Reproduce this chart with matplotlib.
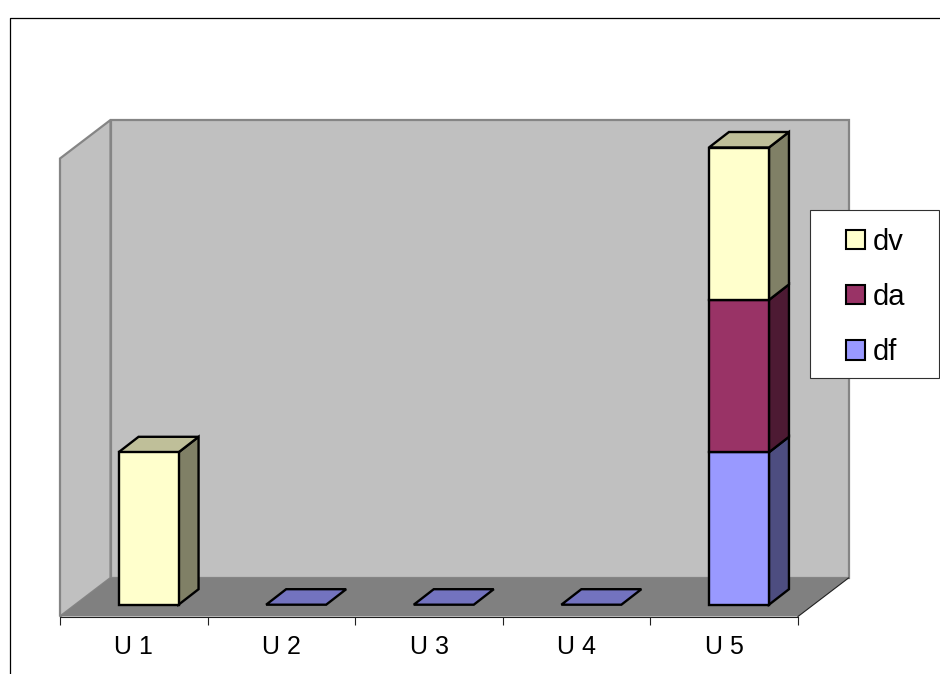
import matplotlib
matplotlib.use("Agg")
import matplotlib.pyplot as plt
from matplotlib.lines import Line2D
from matplotlib.patches import Patch, Polygon, Rectangle
from matplotlib.colors import to_rgb
from matplotlib.transforms import Affine2D

categories = ["U 1", "U 2", "U 3", "U 4", "U 5"]
df_values = [0, 0, 0, 0, 1]
da_values = [0, 0, 0, 0, 1]
dv_values = [1, 0, 0, 0, 1]
series_names = ["df", "da", "dv"]
series_colors = ["#9999FF", "#993366", "#FFFFCC"]

W, H = 940, 674
PX_X, PX_Y = 147.6, 152.4      # pixels per category / per value unit
X0, Y0 = 133.8, 604.7          # pixel of category 0 / value 0
plt.rcParams["font.family"] = ["Liberation Sans", "DejaVu Sans"]
FS = 18
LEG_FS = 21

fig = plt.figure(figsize=(W / 100, H / 100), dpi=100, facecolor="white")
ax = fig.add_axes([0, 0, 1, 1], facecolor="none")
ax.set_xlim(-X0 / PX_X, (W - X0) / PX_X)
ax.set_ylim((Y0 - H) / PX_Y, Y0 / PX_Y)

# depth and geometry, expressed in data units
bar_dx, bar_dy = 20 / PX_X, 15.5 / PX_Y
wall_dx, wall_dy = 50.5 / PX_X, 38.5 / PX_Y
floor_v = (Y0 - 616.5) / PX_Y
top_v = (Y0 - 158.5) / PX_Y
left, right = -0.5, len(categories) - 0.5
bar_w = 60 / PX_X
bar_off = 0.1


def poly(points, face, edge=None, lw=0.0, z=1):
    ax.add_patch(Polygon(points, closed=True, facecolor=face,
                         edgecolor=edge if edge else face, linewidth=lw,
                         joinstyle="miter", zorder=z))


def shade(color, f):
    return tuple(c * f for c in to_rgb(color))


# walls and floor
poly([(left + wall_dx, floor_v + wall_dy), (right + wall_dx, floor_v + wall_dy),
      (right + wall_dx, top_v + wall_dy), (left + wall_dx, top_v + wall_dy)],
     "#C0C0C0", "#858585", 1.6, 1)
poly([(left, floor_v), (left + wall_dx, floor_v + wall_dy),
      (left + wall_dx, top_v + wall_dy), (left, top_v)],
     "#C0C0C0", "#858585", 1.6, 1)
poly([(left, floor_v), (right, floor_v), (right + wall_dx, floor_v + wall_dy),
      (left + wall_dx, floor_v + wall_dy)], "#808080", z=2)
ax.add_line(Line2D([right, right + wall_dx], [floor_v, floor_v + wall_dy],
                   color="#202020", lw=0.8, zorder=3))

# bars
all_series = [df_values, da_values, dv_values]
LW = 1.7
for i in range(len(categories)):
    x0 = i + bar_off - bar_w / 2
    x1 = x0 + bar_w
    bottom = 0
    top_color = series_colors[0]
    for vals, color in zip(all_series, series_colors):
        v = vals[i]
        if v == 0:
            continue
        ax.bar(x0, v, width=bar_w, bottom=bottom, align="edge", color=color,
               edgecolor="black", linewidth=LW, zorder=5)
        poly([(x1, bottom), (x1 + bar_dx, bottom + bar_dy),
              (x1 + bar_dx, bottom + v + bar_dy), (x1, bottom + v)],
             shade(color, 0.5), "black", LW, 4)
        bottom += v
        top_color = color
    poly([(x0, bottom), (x1, bottom), (x1 + bar_dx, bottom + bar_dy),
          (x0 + bar_dx, bottom + bar_dy)],
         shade(top_color, 0.75), "black", LW, 4)

# category axis
for name in ["top", "left", "right"]:
    ax.spines[name].set_visible(False)
ax.spines["bottom"].set_position(("data", floor_v))
ax.spines["bottom"].set_bounds(left, right)
ax.spines["bottom"].set_color("#202020")
ax.spines["bottom"].set_linewidth(0.8)
ax.spines["bottom"].set_zorder(3)
ax.yaxis.set_visible(False)
ax.set_xticks(range(len(categories)), categories, fontsize=FS, color="black")
ax.set_xticks([i - 0.5 for i in range(len(categories) + 1)], minor=True)
ax.tick_params(axis="x", which="major", length=0, pad=13)
ax.tick_params(axis="x", which="minor", length=5.5, width=0.8, color="#202020")

# legend
pixel_from_top = Affine2D().scale(1, -1).translate(0, H)
ax.add_patch(Rectangle((809.5, 209.5), 129, 168.5, facecolor="white",
                       edgecolor="#303030", linewidth=0.8, zorder=8,
                       transform=pixel_from_top))
handles = [Patch(facecolor=c, edgecolor="black", linewidth=1.5, label=n)
           for n, c in zip(series_names[::-1], series_colors[::-1])]
leg = ax.legend(handles=handles, loc="center left", frameon=False, fontsize=LEG_FS,
                bbox_to_anchor=(845.5 / W, 1 - 297 / H),
                bbox_transform=fig.transFigure, borderpad=0, borderaxespad=0,
                handlelength=0.685, handleheight=0.65, handletextpad=0.24,
                labelspacing=0.93)
leg.set_zorder(9)

# outer chart frame, open at the right and bottom
fig.add_artist(Line2D([10.2 / W, 10.2 / W, 1], [0, 1 - 17.5 / H, 1 - 17.5 / H],
                      color="black", lw=0.9, transform=fig.transFigure))

fig.savefig("out.png", dpi=100, facecolor="white")
